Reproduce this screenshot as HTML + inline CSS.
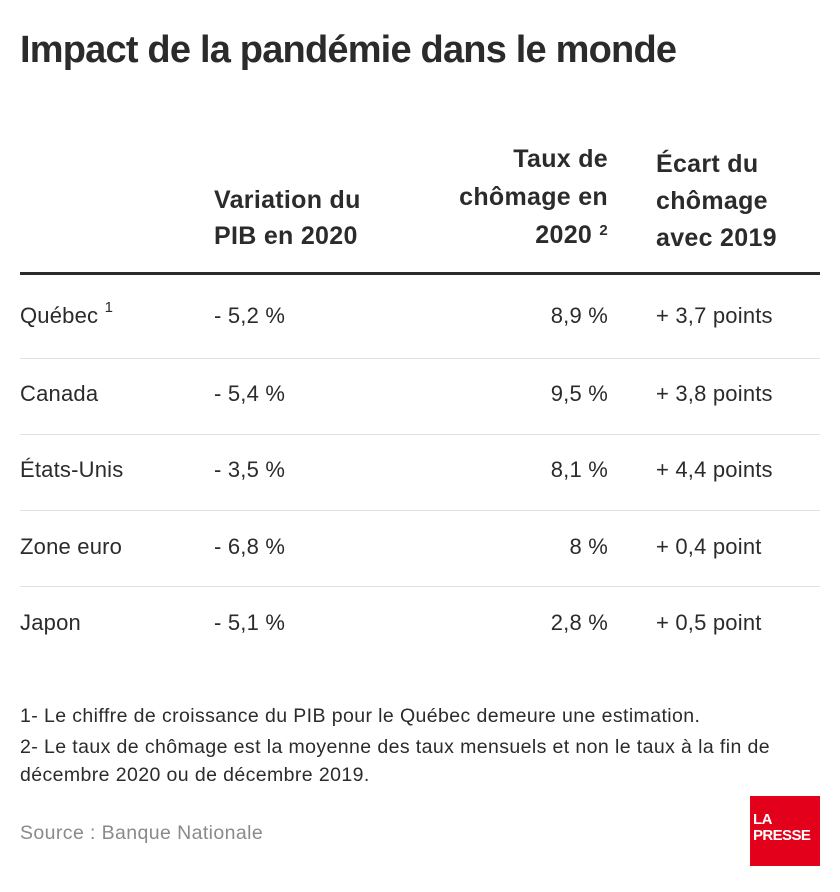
<!DOCTYPE html>
<html><head><meta charset="utf-8"><style>
body{margin:0;width:840px;height:892px;background:#fff;position:relative;font-family:"Liberation Sans",sans-serif;color:#2b2b2b;overflow:hidden}
.a{position:absolute;white-space:nowrap}
h1{position:absolute;left:20px;top:29px;margin:0;font-size:38px;font-weight:bold;letter-spacing:-0.8px;color:#2b2b2b}
.h{font-weight:bold;font-size:25px;line-height:36px;letter-spacing:0.3px}
.r{font-size:22px;letter-spacing:0.2px}
.sep{position:absolute;left:20px;width:800px;height:1px;background:#e2e2e2}
.fn{font-size:19.5px;letter-spacing:0.4px}
sup{font-size:15px;vertical-align:top;position:relative;top:-4px}
</style></head><body>
<h1>Impact de la pandémie dans le monde</h1>
<div class="a h" style="left:214px;top:182px">Variation du<br>PIB en 2020</div>
<div class="a h" style="right:232px;top:140px;text-align:right;line-height:38px">Taux de<br>chômage en<br>2020 <sup>2</sup></div>
<div class="a h" style="left:656px;top:146px;line-height:37px">Écart du<br>chômage<br>avec 2019</div>
<div class="a" style="left:20px;top:272px;width:800px;height:3px;background:#2b2b2b"></div>

<div class="a r" style="left:20px;top:303px">Québec <sup>1</sup></div>
<div class="a r" style="left:214px;top:303px">- 5,2 %</div>
<div class="a r" style="right:232px;top:303px">8,9 %</div>
<div class="a r" style="left:656px;top:303px">+ 3,7 points</div>
<div class="sep" style="top:358px"></div>

<div class="a r" style="left:20px;top:381px">Canada</div>
<div class="a r" style="left:214px;top:381px">- 5,4 %</div>
<div class="a r" style="right:232px;top:381px">9,5 %</div>
<div class="a r" style="left:656px;top:381px">+ 3,8 points</div>
<div class="sep" style="top:434px"></div>

<div class="a r" style="left:20px;top:457px">États-Unis</div>
<div class="a r" style="left:214px;top:457px">- 3,5 %</div>
<div class="a r" style="right:232px;top:457px">8,1 %</div>
<div class="a r" style="left:656px;top:457px">+ 4,4 points</div>
<div class="sep" style="top:510px"></div>

<div class="a r" style="left:20px;top:534px">Zone euro</div>
<div class="a r" style="left:214px;top:534px">- 6,8 %</div>
<div class="a r" style="right:232px;top:534px">8 %</div>
<div class="a r" style="left:656px;top:534px">+ 0,4 point</div>
<div class="sep" style="top:586px"></div>

<div class="a r" style="left:20px;top:610px">Japon</div>
<div class="a r" style="left:214px;top:610px">- 5,1 %</div>
<div class="a r" style="right:232px;top:610px">2,8 %</div>
<div class="a r" style="left:656px;top:610px">+ 0,5 point</div>

<div class="a fn" style="left:20px;top:705px">1- Le chiffre de croissance du PIB pour le Québec demeure une estimation.</div>
<div class="a fn" style="left:20px;top:733px;line-height:28px">2- Le taux de chômage est la moyenne des taux mensuels et non le taux à la fin de<br>décembre 2020 ou de décembre 2019.</div>
<div class="a fn" style="left:20px;top:822px;color:#8a8a8a">Source : Banque Nationale</div>
<div class="a" style="left:750px;top:796px;width:70px;height:70px;background:#e3001b;color:#fff;font-weight:bold;font-size:15px;line-height:16px;letter-spacing:-0.6px">
<div style="position:absolute;left:3px;top:16px">LA</div>
<div style="position:absolute;left:3px;top:32px">PRESSE</div>
</div>
</body></html>
